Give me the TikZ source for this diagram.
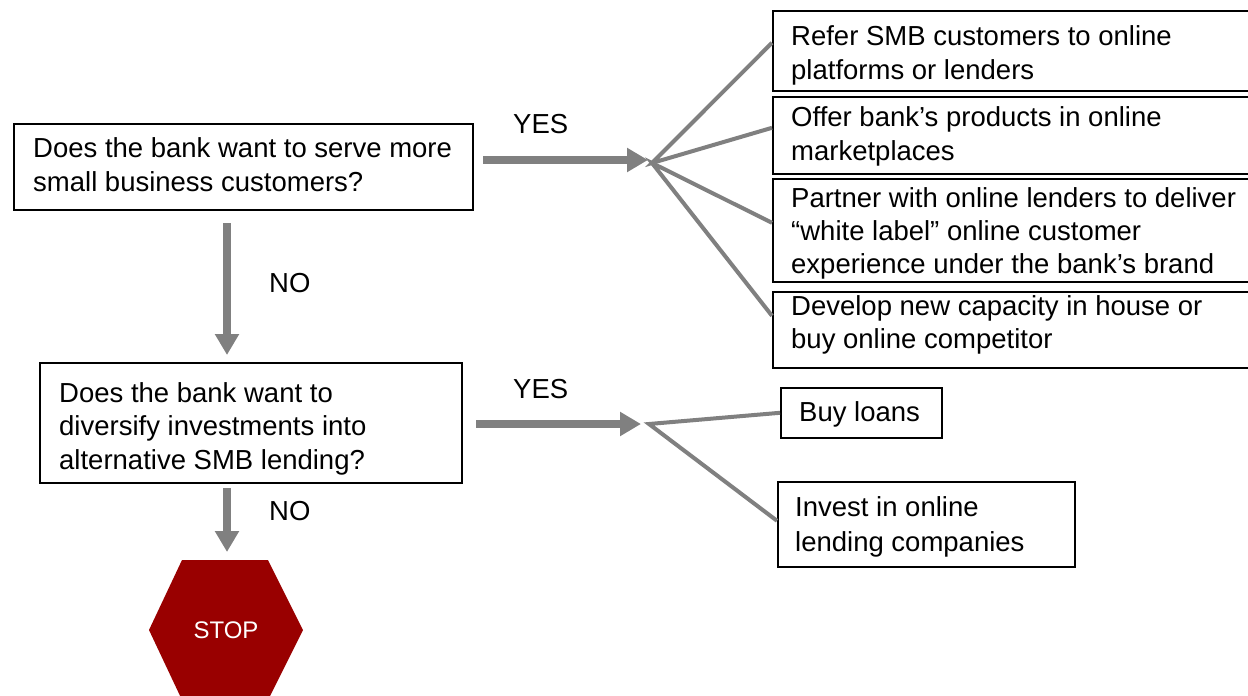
\documentclass[tikz,border=0pt]{standalone}
\usepackage{fontspec}
\setmainfont{Liberation Sans}
\usetikzlibrary{arrows.meta}
\definecolor{arrowgray}{RGB}{128,128,128}
\definecolor{stopred}{RGB}{153,0,0}
\begin{document}
\begin{tikzpicture}[x=1pt,y=-1pt,
  box/.style={draw=black, line width=1.6pt, inner sep=0pt, anchor=north west},
  txt/.style={inner sep=0pt, anchor=base west, align=left, font=\fontsize{27.5}{34}\selectfont},
  lbl/.style={inner sep=0pt, anchor=base west, font=\fontsize{27.5}{34}\selectfont},
  bigarrow/.style={draw=arrowgray, line width=7.5pt, -{Triangle[length=21pt,width=23pt]}},
  fan/.style={draw=arrowgray, line width=4pt}]
\useasboundingbox (0,0) rectangle (1248,696);
\clip (0,0) rectangle (1248,696);
\fill[white] (0,0) rectangle (1248,696);

% question boxes (text anchored at the baseline of its last line)
\node[box, minimum width=459pt, minimum height=86pt] (q1) at (13,123) {};
\node[txt] (q1t) at (33,191) {Does the bank want to serve more\\small business customers?};
\node[box, minimum width=422pt, minimum height=120pt] (q2) at (39,362) {};
\node[txt, font=\fontsize{27.5}{33.5}\selectfont] (q2t) at (59,469) {Does the bank want to\\diversify investments into\\alternative SMB lending?};

% right option boxes
\node[box, minimum width=490pt, minimum height=80pt] (r1) at (772,10) {};
\node[txt] (r1t) at (791,79) {Refer SMB customers to online\\platforms or lenders};
\node[box, minimum width=490pt, minimum height=77pt] (r2) at (772,96) {};
\node[txt] (r2t) at (791,160) {Offer bank’s products in online\\marketplaces};
\node[box, minimum width=490pt, minimum height=103pt] (r3) at (772,178) {};
\node[txt, font=\fontsize{27.5}{33}\selectfont] (r3t) at (791,273) {Partner with online lenders to deliver\\“white label” online customer\\experience under the bank’s brand};
\node[box, minimum width=490pt, minimum height=76pt] (r4) at (772,291) {};
\node[txt, font=\fontsize{27.5}{33}\selectfont] (r4t) at (791,348) {Develop new capacity in house or\\buy online competitor};

\node[box, minimum width=161pt, minimum height=50pt] (b1) at (780,387) {};
\node[txt] (b1t) at (799,421) {Buy loans};
\node[box, minimum width=297pt, minimum height=85pt] (b2) at (777,481) {};
\node[txt, font=\fontsize{27.5}{35}\selectfont] (b2t) at (795,551) {Invest in online\\lending companies};

% stop sign
\fill[stopred] (182,560) -- (268,560) -- (303,630) -- (268,700) -- (182,700) -- (149,630) -- cycle;
\node[inner sep=0pt, text=white, font=\fontsize{24}{28}\selectfont] (stop) at (226,630) {STOP};

% labels
\node[lbl] (yes1) at (513,133) {YES};
\node[lbl] (no1) at (269,292) {NO};
\node[lbl] (yes2) at (513,398) {YES};
\node[lbl] (no2) at (269,520) {NO};

% connector coordinates
\coordinate (a1s) at (483,160);
\coordinate (a1e) at (648,160);
\coordinate (f1) at (652,163);
\coordinate (a2s) at (476,424);
\coordinate (a2e) at (641,424);
\coordinate (f2) at (649,424);
\coordinate (d1s) at (227,223);
\coordinate (d1e) at (227,355);
\coordinate (d2s) at (227,488);
\coordinate (d2e) at (227,552);

\draw[bigarrow] (a1s) -- (a1e);
\draw[bigarrow] (a2s) -- (a2e);
\draw[bigarrow] (d1s) -- (d1e);
\draw[bigarrow] (d2s) -- (d2e);

\draw[fan] ([yshift=8pt]r1.west) -- (f1) -- ([yshift=7.5pt]r2.west);
\draw[fan] ([yshift=7.5pt]r3.west) -- (f1) -- ([yshift=14pt]r4.west);
\draw[fan] (b1.west) -- (f2) -- ([yshift=3.5pt]b2.west);
\end{tikzpicture}
\end{document}
